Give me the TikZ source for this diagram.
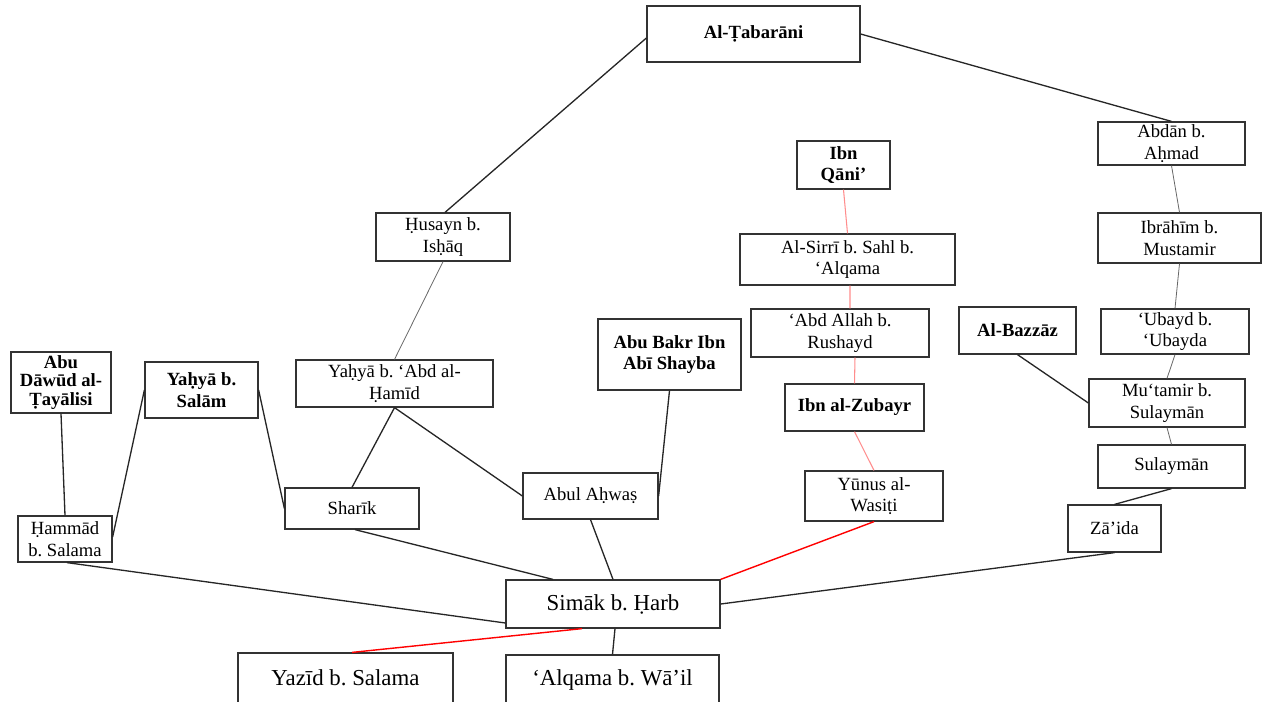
\documentclass[tikz,border=0pt]{standalone}
\usepackage{fontspec}
\setmainfont{Liberation Serif}
\usetikzlibrary{calc}
\frenchspacing
\begin{document}
\begin{tikzpicture}[x=0.02cm,y=-0.02cm,
  box/.style 2 args={draw=black!80, line width=0.7pt, fill=white, inner sep=0pt,
    align=center, minimum width=#1*0.02cm, minimum height=#2*0.02cm,
    font=\fontsize{10.6}{12.4}\selectfont},
  bigbox/.style 2 args={box={#1}{#2}, font=\fontsize{13}{15}\selectfont},
  link/.style={draw=black!85, line width=0.75pt},
  thin/.style={draw=black!60, line width=0.45pt},
  pale/.style={draw=red!45, line width=0.6pt},
  strong/.style={draw=red, line width=0.8pt}]
\useasboundingbox (0,0) rectangle (1264,701);
\clip (0,0) rectangle (1264,701);

% chain through al-Tabarani
\node[box={213}{56}] (tab) at (753.5,34) {\textbf{Al-Ṭabarāni}};
\node[box={134}{48}] (husayn) at (443,237) {Ḥusayn b.\\Isḥāq};
\node[box={197}{47}] (yahyaH) at (394.5,383.5) {Yaḥyā b. ‘Abd al-\\Ḥamīd};
\node[box={134}{41}] (sharik) at (352,508.5) {Sharīk};
\node[box={135}{46}] (ahwas) at (590.5,496) {Abul Aḥwaṣ};
\node[box={143}{71}] (shayba) at (669.5,354.5) {\textbf{Abu Bakr Ibn}\\\textbf{Abī Shayba}};

% left side
\node[box={100}{61}, font=\fontsize{10.6}{10.4}\selectfont] (dawud) at (61,382.5)
  {\textbf{Abu}\\\textbf{Dāwūd al-}\\\textbf{Ṭayālisi}};
\node[box={113}{56}] (salam) at (201.5,390) {\textbf{Yaḥyā b.}\\\textbf{Salām}};
\node[box={94}{46}] (hammad) at (65,539) {Ḥammād\\b. Salama};

% chain through Ibn Qani'
\node[box={93}{48}] (qani) at (843.5,165) {\textbf{Ibn}\\\textbf{Qāni’}};
\node[box={215}{51}] (sirri) at (847.5,259.5) {Al-Sirrī b. Sahl b.\\‘Alqama};
\node[box={178}{48}] (rushayd) at (840,333) {‘Abd Allah b.\\Rushayd};
\node[box={139}{47}] (zubayr) at (854.5,407.5) {\textbf{Ibn al-Zubayr}};
\node[box={138}{50}] (yunus) at (874,496) {Yūnus al-\\Wasiṭi};

% right side
\node[box={147}{43}] (abdan) at (1171.5,143.5) {Abdān b.\\Aḥmad};
\node[box={163}{50}] (ibrahim) at (1179.5,238) {Ibrāhīm b.\\Mustamir};
\node[box={148}{45}] (ubayd) at (1175,331.5) {‘Ubayd b.\\‘Ubayda};
\node[box={117}{47}] (bazzaz) at (1017.5,330.5) {\textbf{Al-Bazzāz}};
\node[box={156}{48}] (mutamir) at (1167,403) {Mu‘tamir b.\\Sulaymān};
\node[box={147}{43}] (sulayman) at (1171.5,466.5) {Sulaymān};
\node[box={93}{47}] (zaida) at (1114.5,528.5) {Zā’ida};

% common link and the two companions
\node[bigbox={214}{48}] (simak) at (613,604) {Simāk b. Ḥarb};
\node[bigbox={215}{50}] (yazid) at (345.5,678) {Yazīd b. Salama};
\node[bigbox={213}{50}] (alqama) at (612.5,680) {‘Alqama b. Wā’il};

% connectors
\draw[link] ($(tab.west)+(0,4)$) -- ($(husayn.north)+(2,0)$);
\draw[link] (tab.east) -- (abdan.north);
\draw[thin] (husayn.south) -- (yahyaH.north);
\draw[link] (yahyaH.south) -- (sharik.north);
\draw[link] (yahyaH.south) -- (ahwas.west);
\draw[link] (dawud.south) -- (hammad.north);
\draw[link] (salam.west) -- ($(hammad.east)+(0,-2)$);
\draw[link] (salam.east) -- (sharik.west);
\draw[link] ($(hammad.south)+(2,0)$) -- ($(simak.west)+(0,19)$);
\draw[link] ($(sharik.south)+(3,0)$) -- ($(simak.north)+(-60,0)$);
\draw[link] (ahwas.south) -- (simak.north);
\draw[link] (shayba.south) -- (ahwas.east);

\draw[pale] (qani.south) -- (sirri.north);
\draw[pale] ($(sirri.south)+(2.5,0)$) -- ($(rushayd.north)+(10,0)$);
\draw[pale] ($(rushayd.south)+(15,0)$) -- (zubayr.north);
\draw[pale] (zubayr.south) -- (yunus.north);
\draw[strong] (yunus.south) -- (simak.north east);
\draw[strong] ($(simak.south)+(-31,0)$) -- ($(yazid.north)+(6.5,0)$);
\draw[link] ($(simak.south)+(2,0)$) -- (alqama.north);

\draw[thin] (abdan.south) -- (ibrahim.north);
\draw[thin] (ibrahim.south) -- (ubayd.north);
\draw[thin] (ubayd.south) -- (mutamir.north);
\draw[link] (bazzaz.south) -- (mutamir.west);
\draw[thin] (mutamir.south) -- (sulayman.north);
\draw[link] (sulayman.south) -- (zaida.north);
\draw[link] (zaida.south) -- (simak.east);
\end{tikzpicture}
\end{document}
